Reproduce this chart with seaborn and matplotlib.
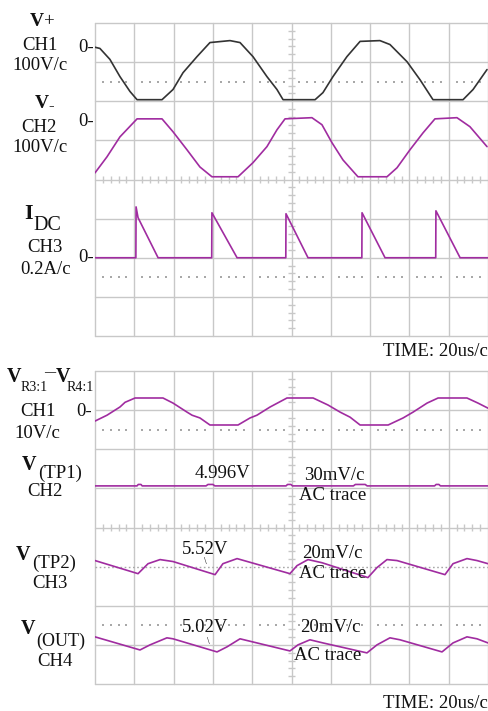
import numpy as np
import pandas as pd
import matplotlib
matplotlib.use('Agg')
import matplotlib.pyplot as plt
import seaborn as sns

# ---------- data read off the scope screens (time in us) ----------
# upper screen
vp_t = [0, 2.5, 7.6, 12.7, 17.8, 21.4, 34.1, 39.7, 44.8, 51.9, 58.5, 68.7, 73.8, 80.4, 87.5,
        92.6, 95.7, 112.0, 116.0, 121.1, 128.2, 134.9, 145.0, 150.1, 158.8, 165.4, 172.0,
        187.3, 192.4, 199.5]
vp_v = [0, -3, -31, -75, -113, -134, -134, -108, -65, -24, 12, 17, 12, -24, -75,
        -108, -134, -134, -116, -75, -24, 15, 17, 7, -37, -83, -134,
        -134, -108, -57]  # V

vm_t = [0, 6.1, 12.7, 21.4, 34.1, 39.7, 46.8, 53.4, 59.5, 72.8, 80.4, 87.5, 92.6, 96.7,
        110.4, 115.5, 120.6, 126.2, 133.8, 148.6, 153.7, 160.3, 166.9, 173.0, 184.2, 190.8, 199.5]
vm_v = [-133, -92, -41, 5, 5, -28, -74, -118, -143, -143, -107, -66, -23, 5,
        8, -10, -56, -100, -143, -143, -120, -74, -31, 5, 8, -15, -66]  # V

idc_t = [0, 20.8, 20.9, 21.9, 32.1, 59.4, 59.5, 72.3, 97.1, 97.2, 108.4, 135.8, 135.9,
         147.6, 173.4, 173.5, 185.8, 200]
idc_v = [0, 0, 0.26, 0.205, 0, 0, 0.23, 0, 0, 0.225, 0, 0, 0.23,
         0, 0, 0.24, 0, 0]  # A

# lower screen
vr_t = [0, 6.1, 12.7, 15.3, 20.4, 34.6, 39.7, 46.8, 49.4, 53.4, 58.5, 72.8, 78.9, 82.4,
        89.1, 97.7, 111.0, 118.6, 124.7, 129.8, 134.9, 149.2, 156.8, 161.9, 169.0, 174.6,
        189.3, 194.9, 200.0]
vr_v = [-2.8, -1.3, 0.8, 2.0, 3.1, 3.1, 1.8, -0.5, -1.3, -2.0, -3.8, -3.8, -2.0, -1.3,
        0.8, 3.1, 3.1, 1.3, -0.5, -1.8, -3.8, -3.8, -2.0, -0.5, 1.8, 3.1,
        3.1, 1.8, 0.5]  # V

tp1_t = [0, 21.4, 22.0, 23.4, 24.0, 56.5, 57.5, 60.0, 61.0, 97.2, 98.0, 99.7, 100.5,
         131.5, 132.5, 137.5, 138.5, 172.8, 173.6, 175.0, 175.8, 200]
tp1_v = [1.9, 1.9, 3.0, 3.0, 1.9, 1.9, 3.0, 3.0, 1.9, 1.9, 3.0, 3.0, 1.9,
         1.9, 3.0, 3.0, 1.9, 1.9, 3.0, 3.0, 1.9, 1.9]  # mV, AC

tp2_t = [0, 21.9, 27.0, 33.1, 39.7, 61.1, 65.1, 72.3, 99.2, 102.8, 108.4, 115.5, 138.9,
         143.5, 148.6, 153.7, 178.1, 182.2, 189.3, 194.4, 200.0]
tp2_v = [3.1, -3.6, 1.5, 3.6, 2.6, -4.1, 1.5, 4.1, -3.6, 0.5, 3.6, 2.0, -5.6,
         -0.5, 3.6, 3.1, -4.1, 1.5, 4.1, 3.1, 1.5]  # mV, AC

out_t = [0, 22.9, 28.0, 36.6, 39.7, 62.1, 67.2, 73.8, 99.2, 103.3, 109.4, 116.0, 138.4,
         143.5, 150.1, 155.2, 176.6, 182.2, 189.3, 194.4, 200.0]
out_v = [4.1, -2.6, 0, 3.6, 3.1, -3.6, -1.0, 3.1, -3.1, 0, 2.6, 1.0, -4.1,
         0, 3.6, 2.6, -3.6, 1.0, 4.1, 3.1, 1.0]  # mV, AC

# ---------- style ----------
sns.set_style('white')
plt.rcParams['font.family'] = ['Liberation Serif', 'DejaVu Serif']

W, H = 489, 711
GRID = '#c8c8c8'
DOTS = '#a8a8a8'
PURPLE = '#a02ca0'
BLACK = '#333333'

fig = plt.figure(figsize=(W / 100, H / 100), dpi=100)


def box(left, top, right, bottom):
    return [left / W, 1 - bottom / H, (right - left) / W, (bottom - top) / H]


def label(x, y, s, size=13.5, ha='center', weight='normal'):
    fig.text(x / W, 1 - y / H, s, fontsize=size, ha=ha, va='center', weight=weight, color='#111111')


minor_t = [k * 4 for k in range(51) if k % 5]
minor_y = [j * 0.2 for j in range(-20, 21) if j % 5]


def screen(ax, dotted_rows, dotted_grid=()):
    for i in range(11):
        ax.axvline(i * 20, color=GRID, lw=1, clip_on=False, zorder=0)
    for j in range(-4, 5):
        if j in dotted_grid:
            ax.axhline(j, color=DOTS, lw=1, ls=(0, (1.2, 1.8)), zorder=0)
        else:
            ax.axhline(j, color=GRID, lw=1, clip_on=False, zorder=0)
    # tick marks on the centre cross
    ax.vlines(minor_t, -0.08, 0.08, color=GRID, lw=1, zorder=0)
    ax.hlines(minor_y, 100 - 1.7, 100 + 1.7, color=GRID, lw=1, zorder=0)
    for y in dotted_rows:
        ax.scatter(minor_t, [y] * len(minor_t), marker='s', s=1.6, color=DOTS, linewidths=0, zorder=1)
    ax.set_xlim(0, 200)
    ax.set_ylim(-4, 4)
    ax.axis('off')


def trace(ax, t, vals, per_div, offset, color):
    df = pd.DataFrame({'t': t, 'div': np.array(vals) / per_div + offset})
    sns.lineplot(data=df, x='t', y='div', ax=ax, color=color, lw=1.2,
                 estimator=None, sort=False, legend=False, zorder=3)


# ---------- upper screen ----------
ax1 = fig.add_axes(box(95, 23, 488, 336))
screen(ax1, dotted_rows=[2.5, -2.5])
trace(ax1, vp_t, vp_v, 100, 3.38, BLACK)
trace(ax1, vm_t, vm_v, 100, 1.5, PURPLE)
trace(ax1, idc_t, idc_v, 0.2, -2.0, PURPLE)

label(30, 21, 'V', size=14, ha='left', weight='bold')
label(44, 22, '+', size=13.5, ha='left')
label(40, 46, 'CH1')
label(40, 66, '100V/c')
label(94, 47, '0-', ha='right')

label(35, 104, 'V', size=14, ha='left', weight='bold')
label(48.5, 106, '-', size=12, ha='left')
label(39, 128, 'CH2')
label(40, 148, '100V/c')
label(94, 121, '0-', ha='right')

label(24, 214, 'I', size=16, ha='left', weight='bold')
label(33, 225, 'DC', size=14.5, ha='left')
label(45, 247, 'CH3')
label(46, 269, '0.2A/c')
label(94, 258, '0-', ha='right')

label(488, 352, 'TIME: 20us/c', ha='right')

# ---------- lower screen ----------
ax2 = fig.add_axes(box(95, 371, 488, 684))
screen(ax2, dotted_rows=[2.5, -2.5], dotted_grid=[-1])
trace(ax2, vr_t, vr_v, 10, 3.0, PURPLE)
trace(ax2, tp1_t, tp1_v, 30, 1.0, PURPLE)
trace(ax2, tp2_t, tp2_v, 20, -1.0, PURPLE)
trace(ax2, out_t, out_v, 20, -3.0, PURPLE)

label(7, 377, 'V', size=14.5, ha='left', weight='bold')
label(21, 388, 'R3:1', size=10, ha='left')
label(44, 373, '\u2014', size=8, ha='left', weight='bold')
label(56, 377, 'V', size=14.5, ha='left', weight='bold')
label(67, 388, 'R4:1', size=10, ha='left')
label(38, 412, 'CH1')
label(37, 433, '10V/c')
label(92, 411, '0-', ha='right')

label(22, 465, 'V', size=14.5, ha='left', weight='bold')
label(38, 473, '(TP1)', size=13.5, ha='left')
label(45, 492, 'CH2')
label(222, 473, '4.996V')
label(334, 476, '30mV/c')
label(333, 495, 'AC trace')

label(16, 555, 'V', size=14.5, ha='left', weight='bold')
label(32, 563, '(TP2)', size=13.5, ha='left')
label(50, 583, 'CH3')
label(205, 549, '5.52V')
label(205, 562, '\\', size=7)
label(332, 553, '20mV/c')
label(333, 573, 'AC trace')

label(21, 629, 'V', size=14.5, ha='left', weight='bold')
label(36, 641, '(OUT)', size=13, ha='left')
label(55, 661, 'CH4')
label(205, 627, '5.02V')
label(208, 641, '\\', size=7)
label(330, 627, '20mV/c')
label(328, 656, 'AC trace')

label(488, 703, 'TIME: 20us/c', ha='right')

plt.savefig('out.png', dpi=100)
